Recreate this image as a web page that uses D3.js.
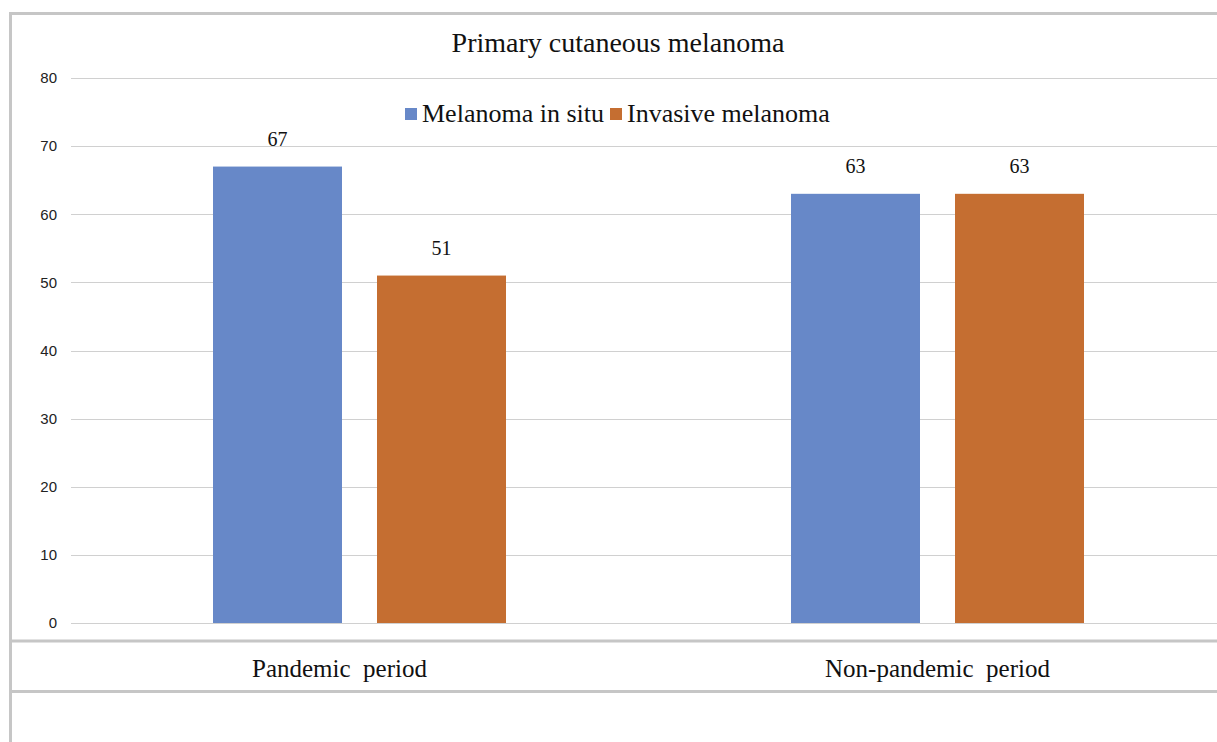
<!DOCTYPE html>
<html><head><meta charset="utf-8">
<script src="https://cdn.jsdelivr.net/npm/d3@7"></script>
<style>html,body{margin:0;padding:0;background:#fff;overflow:hidden}</style>
</head><body>
<svg id="chart" width="1217" height="742"></svg>
<script>
const title = "Primary cutaneous melanoma";
const categories = ["Pandemic  period", "Non-pandemic  period"];
const seriesNames = ["Melanoma in situ", "Invasive melanoma"];
const inSitu = [67, 63];
const invasive = [51, 63];
const yTicks = [0, 10, 20, 30, 40, 50, 60, 70, 80];
const colors = ["#6788C8", "#C56E31"];

const svg = d3.select("#chart");
const serif = "'Liberation Serif','Times New Roman',serif";
const sans = "'Liberation Sans',Arial,sans-serif";

// frame
svg.append("rect").attr("x", 10.5).attr("y", 13.5).attr("width", 1260).attr("height", 800)
  .attr("fill", "none").attr("stroke", "#c6c6c6").attr("stroke-width", 3);
svg.append("line").attr("x1", 10).attr("x2", 1217).attr("y1", 641).attr("y2", 641)
  .attr("stroke", "#c6c6c6").attr("stroke-width", 3);
svg.append("line").attr("x1", 10).attr("x2", 1217).attr("y1", 691.5).attr("y2", 691.5)
  .attr("stroke", "#c6c6c6").attr("stroke-width", 3);

const x0 = d3.scaleBand().domain(categories).range([70.5, 1226.5]).paddingInner(0).paddingOuter(0);
const y = d3.scaleLinear().domain([0, 80]).range([623, 78]);
const groupW = 293;
const x1 = d3.scaleBand().domain(seriesNames).range([0, groupW]).paddingInner(0.2134).paddingOuter(0);

// gridlines
const grid = svg.append("g");
grid.selectAll("line").data(yTicks).join("line")
  .attr("x1", 71).attr("x2", 1217)
  .attr("y1", d => Math.round(y(d)) + 0.5).attr("y2", d => Math.round(y(d)) + 0.5)
  .attr("stroke", "#d0d0d0").attr("stroke-width", 1.2);

// y axis labels via axis
const yAxis = svg.append("g").attr("transform", "translate(57,0)")
  .call(d3.axisLeft(y).tickValues(yTicks).tickSize(0).tickPadding(0));
yAxis.select(".domain").remove();
yAxis.selectAll("text").attr("font-family", sans).attr("font-size", 15).attr("fill", "#222");

const data = categories.map((c, i) => ({cat: c, vals: [inSitu[i], invasive[i]]}));
const groups = svg.append("g").selectAll("g").data(data).join("g")
  .attr("transform", d => `translate(${x0(d.cat) + (x0.bandwidth() - groupW) / 2},0)`);

const bars = groups.selectAll("g").data(d => d.vals.map((v, j) => ({name: seriesNames[j], v, j}))).join("g");
bars.append("rect")
  .attr("x", d => x1(d.name)).attr("width", x1.bandwidth())
  .attr("y", d => y(d.v)).attr("height", d => y(0) - y(d.v))
  .attr("fill", d => colors[d.j]);
bars.append("text")
  .attr("x", d => x1(d.name) + x1.bandwidth() / 2).attr("y", d => y(d.v) - 21)
  .attr("text-anchor", "middle").attr("font-family", serif).attr("font-size", 20).attr("fill", "#111")
  .text(d => d.v);

// category labels
svg.append("g").selectAll("text").data(categories).join("text")
  .attr("x", d => x0(d) + x0.bandwidth() / 2 - (d.startsWith("Pandemic") ? 20 : 0))
  .attr("y", 677).attr("text-anchor", "middle")
  .attr("font-family", serif).attr("font-size", 25).attr("fill", "#111")
  .attr("xml:space", "preserve").style("white-space", "pre")
  .text(d => d);

// title
svg.append("text").attr("x", 618).attr("y", 52).attr("text-anchor", "middle")
  .attr("font-family", serif).attr("font-size", 28).attr("fill", "#111").text(title);

// legend
const legX = [405, 610];
const leg = svg.append("g").selectAll("g").data(seriesNames).join("g")
  .attr("transform", (d, i) => `translate(${legX[i]},0)`);
leg.append("rect").attr("x", 0).attr("y", 108).attr("width", 12).attr("height", 12)
  .attr("fill", (d, i) => colors[i]);
leg.append("text").attr("x", 17).attr("y", 122).attr("font-family", serif).attr("font-size", 26)
  .attr("fill", "#111").text(d => d);
</script>
</body></html>
